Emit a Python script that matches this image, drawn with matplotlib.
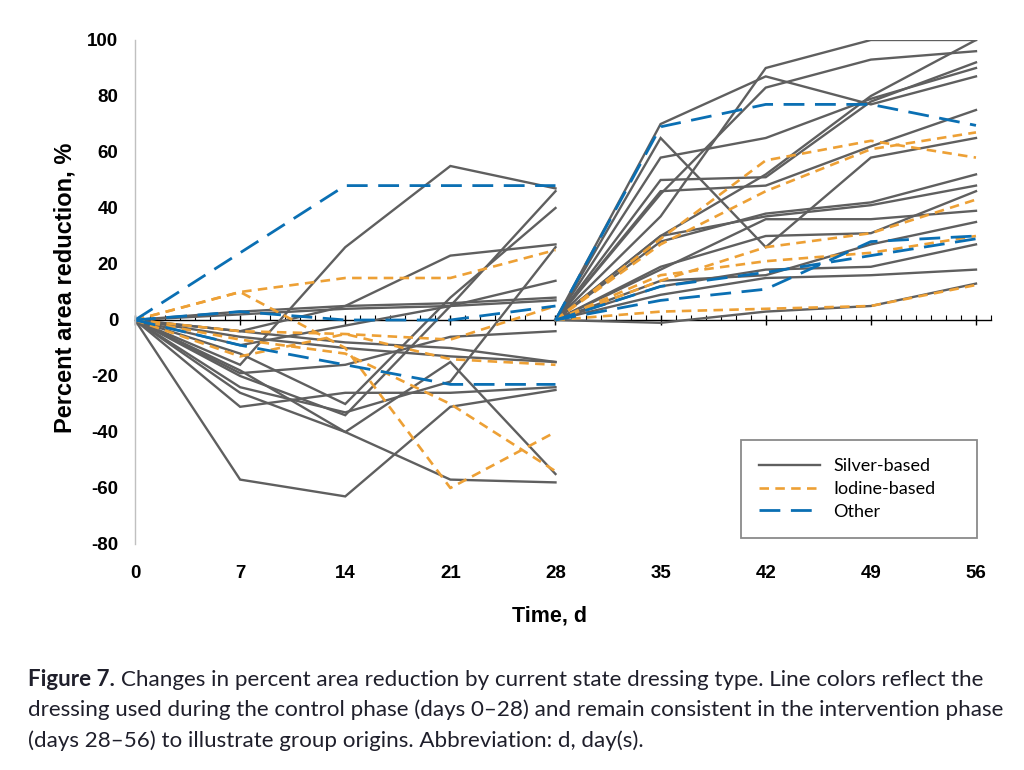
import matplotlib
matplotlib.use("Agg")
import matplotlib.pyplot as plt
from matplotlib.ticker import MultipleLocator, NullLocator
from matplotlib.lines import Line2D

# ---------------- data ----------------
control_days = [0, 7, 14, 21, 28]
intervention_days = [28, 35, 42, 49, 56]

silver_control = [
    [0, -57, -63, -31, -25],
    [0, -26, -40, -57, -58],
    [0, -18, -40, -15, -55],
    [0, -20, -34, 5, 46],
    [0, -16, 26, 55, 47],
    [0, -12, -30, 8, 40],
    [0, -4, 5, 23, 27],
    [0, 3, 5, 6, 8],
    [0, -9, -2, 5, 14],
    [0, -31, -26, -26, -24],
    [0, -4, -8, -10, -15],
    [0, -19, -16, -6, -4],
    [0, 2, 4, 5, 7],
    [0, -6, -10, -13, -15],
    [0, -24, -33, -22, 26],
]
iodine_control = [
    [0, 10, 15, 15, 25],
    [0, 10, -10, -60, -40],
    [0, -7, -12, -30, -54],
    [0, -13, -5, -14, -16],
    [0, -4, -5, -7, 5],
]
other_control = [
    [0, 24, 48, 48, 48],
    [0, 3, 0, 0, 5],
    [0, -9, -16, -23, -23],
]

silver_intervention = [
    [0, 70, 87, 77, 87],
    [0, 37, 90, 100, 100],
    [0, 65, 26, 58, 65],
    [0, 58, 65, 79, 90],
    [0, 45, 83, 93, 96],
    [0, 50, 51, 78, 92],
    [0, 30, 52, 80, 100],
    [0, 46, 48, 62, 75],
    [0, 30, 37, 41, 48],
    [0, 28, 38, 42, 52],
    [0, 18, 36, 36, 39],
    [0, 19, 30, 31, 46],
    [0, 14, 16, 27, 35],
    [0, 12, 18, 19, 27],
    [0, 9, 15, 16, 18],
    [0, -1, 3, 5, 13],
]
iodine_intervention = [
    [0, 27, 46, 61, 67],
    [0, 29, 57, 64, 58],
    [0, 14, 26, 31, 43],
    [0, 3, 4, 5, 12.5],
    [0, 16, 21, 24, 30],
]
other_intervention = [
    [0, 69, 77, 77, 69.5],
    [0, 7, 11, 28, 30],
    [0, 12, 17, 23, 29],
]

x_ticks = [0, 7, 14, 21, 28, 35, 42, 49, 56]
y_ticks = [-80, -60, -40, -20, 0, 20, 40, 60, 80, 100]
legend_labels = ["Silver-based", "Iodine-based", "Other"]

# ---------------- style ----------------
SILVER = "#5f5f5f"
IODINE = "#eda035"
OTHER = "#0a6fb3"
silver_kw = dict(color=SILVER, lw=1.7, ls="-", solid_joinstyle="miter")
iodine_kw = dict(color=IODINE, lw=1.9, ls=(0, (3.6, 2.4)))
other_kw = dict(color=OTHER, lw=2.0, ls=(0, (7.5, 3.8)))

W, H = 1024, 770
fig = plt.figure(figsize=(W / 100, H / 100), dpi=100)
ax = fig.add_axes([135 / W, 1 - 544 / H, (991 - 135) / W, (544 - 40) / H])

for s in silver_control:
    ax.plot(control_days, s, **silver_kw)
for s in silver_intervention:
    ax.plot(intervention_days, s, **silver_kw)
for s in iodine_control:
    ax.plot(control_days, s, **iodine_kw)
for s in iodine_intervention:
    ax.plot(intervention_days, s, **iodine_kw)
for s in other_control:
    ax.plot(control_days, s, **other_kw)
for s in other_intervention:
    ax.plot(intervention_days, s, **other_kw)

ax.set_xlim(0, 57)
ax.set_ylim(-80, 100)

for sp in ("top", "right"):
    ax.spines[sp].set_visible(False)
ax.spines["left"].set_color("#c0c0c0")
ax.spines["left"].set_linewidth(1.0)
ax.spines["bottom"].set_position(("data", 0))
ax.spines["bottom"].set_color("black")
ax.spines["bottom"].set_linewidth(1.0)
ax.spines["bottom"].set_zorder(0.5)

ax.set_xticks(x_ticks)
ax.xaxis.set_minor_locator(MultipleLocator(1))
ax.tick_params(axis="x", which="major", direction="inout", length=7, width=1.0,
               color="black", labelbottom=False)
ax.tick_params(axis="x", which="minor", direction="in", length=3.5, width=0.8,
               color="black")

ax.set_yticks(y_ticks)
ax.set_yticklabels([str(v) for v in y_ticks], fontfamily="Liberation Sans",
                   fontweight="bold", fontsize=13.5)
ax.tick_params(axis="y", length=0, pad=12)

sec = ax.secondary_xaxis("bottom")
sec.set_xticks(x_ticks)
sec.set_xticklabels([str(v) for v in x_ticks], fontfamily="Liberation Sans",
                    fontweight="bold", fontsize=13.5)
sec.xaxis.set_minor_locator(NullLocator())
sec.tick_params(axis="x", length=0, pad=15)
sec.spines["bottom"].set_visible(False)

fig.text(65 / W, 1 - 288 / H, "Percent area reduction, %", rotation=90,
         ha="center", va="center", fontfamily="Liberation Sans",
         fontweight="bold", fontsize=17)
fig.text(550 / W, 1 - 616 / H, "Time, d", ha="center", va="center",
         fontfamily="Liberation Sans", fontweight="bold", fontsize=15.5)

handles = [Line2D([], [], **silver_kw), Line2D([], [], **iodine_kw),
           Line2D([], [], **other_kw)]
leg = fig.legend(handles, legend_labels, loc="upper left",
                 bbox_to_anchor=(741 / W, 1 - 534 / H, 236 / W, 94 / H),
                 mode="expand",
                 frameon=True, fancybox=False, shadow=False,
                 prop={"family": "Lato", "size": 13},
                 handlelength=3.4, handletextpad=0.7, labelspacing=0.38,
                 borderpad=1.0, borderaxespad=0)
leg.get_frame().set_edgecolor("#8a8a8a")
leg.get_frame().set_linewidth(1.3)
leg.get_frame().set_alpha(1)

# ---------------- caption ----------------
cap_color = "#1f1f2b"
cap_size = 16.1
fig.canvas.draw()
r = fig.canvas.get_renderer()
t1 = fig.text(28 / W, 1 - 680 / H, "Figure 7.", fontfamily="Lato",
              fontweight="bold", fontsize=cap_size, color=cap_color,
              va="center", ha="left")
bb = t1.get_window_extent(renderer=r)
fig.text((bb.x1 + 6) / W, 1 - 680 / H,
         "Changes in percent area reduction by current state dressing type. Line colors reflect the",
         fontfamily="Lato", fontsize=cap_size, color=cap_color, va="center", ha="left")
fig.text(28 / W, 1 - 710 / H,
         "dressing used during the control phase (days 0\u201328) and remain consistent in the intervention phase",
         fontfamily="Lato", fontsize=cap_size, color=cap_color, va="center", ha="left")
fig.text(28 / W, 1 - 741 / H,
         "(days 28\u201356) to illustrate group origins. Abbreviation: d, day(s).",
         fontfamily="Lato", fontsize=cap_size, color=cap_color, va="center", ha="left")

fig.savefig("out.png", dpi=100)
